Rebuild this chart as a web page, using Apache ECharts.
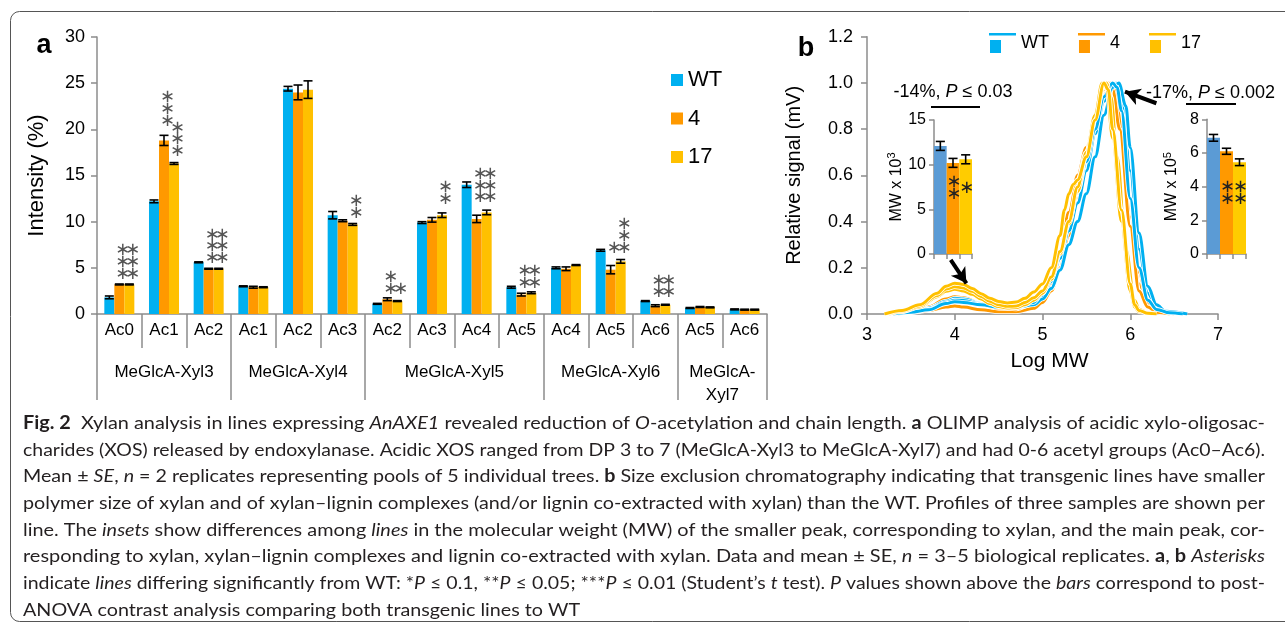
<!DOCTYPE html>
<html><head><meta charset="utf-8">
<script src="https://cdn.jsdelivr.net/npm/echarts@6/dist/echarts.min.js"></script>
<style>html,body{margin:0;padding:0;background:#fff}#c{width:1285px;height:626px}</style>
</head><body><div id="c"></div>
<script>
// ---------- Panel a data ----------
const acLabels = ['Ac0','Ac1','Ac2','Ac1','Ac2','Ac3','Ac2','Ac3','Ac4','Ac5','Ac4','Ac5','Ac6','Ac5','Ac6'];
const groupNames = ['MeGlcA-Xyl3','MeGlcA-Xyl4','MeGlcA-Xyl5','MeGlcA-Xyl6','MeGlcA-\nXyl7'];
const groupBounds = [0,3,6,10,13,15];
const groupCenters = [1.5,4.5,8,11.5,14];
const lineNames = ['WT','4','17'];
const wtValues  = [1.8,12.2,5.6,3.0,24.4,10.7,1.1,9.9,14.0,2.9,5.0,6.9,1.4,0.65,0.5];
const l4Values  = [3.2,18.8,4.9,2.9,24.0,10.1,1.6,10.2,10.3,2.1,4.9,4.8,0.9,0.76,0.47];
const l17Values = [3.2,16.3,4.9,2.9,24.3,9.7,1.4,10.7,11.0,2.3,5.3,5.7,1.0,0.72,0.47];
const wtErr  = [0.15,0.15,0.05,0.05,0.25,0.4,0.05,0.1,0.3,0.1,0.1,0.1,0.05,0.05,0.05];
const l4Err  = [0.05,0.55,0.05,0.1,0.8,0.1,0.15,0.25,0.4,0.15,0.2,0.45,0.1,0.05,0.05];
const l17Err = [0.05,0.1,0.05,0.05,0.95,0.1,0.05,0.25,0.25,0.1,0.05,0.2,0.05,0.05,0.05];
// asterisks: [category, line index, count, value of lowest asterisk]
const starsA = [[0,1,3,4.3],[0,2,3,4.3],[1,1,3,20.9],[1,2,3,17.6],[2,1,3,6.0],[2,2,3,6.0],
  [5,2,2,10.9],[6,1,2,2.7],[6,2,1,2.7],[7,2,2,12.4],[8,1,3,12.6],[8,2,3,12.6],
  [9,1,2,3.3],[9,2,2,3.3],[11,1,1,7.15],[11,2,3,7.15],[12,1,2,2.3],[12,2,2,2.3]];

// ---------- Panel b data (Log MW, relative signal) ----------
const wt1 = [[3.3,0],[3.5,0.01],[3.7,0.025],[3.9,0.055],[4.0,0.068],[4.1,0.065],[4.3,0.045],[4.5,0.03],[4.7,0.03],[4.9,0.05],[5.0,0.08],[5.1,0.14],[5.2,0.24],[5.3,0.36],[5.4,0.48],[5.5,0.62],[5.6,0.78],[5.7,0.92],[5.8,0.99],[5.85,1.0],[5.9,0.95],[6.0,0.62],[6.1,0.28],[6.2,0.09],[6.3,0.03],[6.4,0.01],[6.6,0]];
const wt2 = [[3.35,0],[3.5,0.008],[3.7,0.02],[3.9,0.05],[4.0,0.06],[4.1,0.058],[4.3,0.042],[4.5,0.03],[4.7,0.028],[4.9,0.04],[5.0,0.065],[5.1,0.11],[5.2,0.19],[5.3,0.3],[5.4,0.4],[5.5,0.52],[5.6,0.68],[5.7,0.86],[5.8,0.98],[5.87,1.0],[5.95,0.9],[6.0,0.72],[6.1,0.35],[6.2,0.12],[6.3,0.04],[6.4,0.012],[6.65,0]];
const wt3 = [[3.3,0],[3.5,0.008],[3.7,0.018],[3.9,0.045],[4.0,0.053],[4.1,0.05],[4.3,0.04],[4.5,0.03],[4.7,0.03],[4.9,0.05],[5.0,0.09],[5.1,0.16],[5.2,0.27],[5.3,0.4],[5.4,0.53],[5.5,0.66],[5.6,0.8],[5.7,0.94],[5.8,1.0],[5.85,0.98],[5.9,0.88],[6.0,0.5],[6.1,0.2],[6.2,0.06],[6.3,0.02],[6.45,0.005],[6.6,0]];
const l4a = [[3.3,0],[3.5,0.01],[3.7,0.03],[3.9,0.065],[4.0,0.075],[4.1,0.07],[4.3,0.045],[4.5,0.025],[4.7,0.02],[4.9,0.04],[5.0,0.07],[5.1,0.13],[5.2,0.24],[5.3,0.42],[5.4,0.6],[5.5,0.72],[5.6,0.84],[5.7,0.96],[5.77,1.0],[5.82,0.97],[5.9,0.82],[6.0,0.42],[6.1,0.13],[6.2,0.04],[6.3,0.01],[6.45,0]];
const l4b = [[3.35,0],[3.5,0.006],[3.7,0.015],[3.9,0.03],[4.0,0.035],[4.1,0.03],[4.3,0.018],[4.5,0.01],[4.7,0.01],[4.9,0.025],[5.0,0.05],[5.1,0.1],[5.2,0.2],[5.3,0.34],[5.4,0.5],[5.5,0.66],[5.6,0.82],[5.7,0.95],[5.78,1.0],[5.84,0.96],[5.92,0.78],[6.0,0.5],[6.1,0.18],[6.2,0.05],[6.3,0.015],[6.5,0]];
const l4c = [[3.3,0],[3.5,0.01],[3.7,0.025],[3.9,0.05],[4.0,0.06],[4.1,0.056],[4.3,0.04],[4.5,0.025],[4.7,0.022],[4.9,0.045],[5.0,0.08],[5.1,0.15],[5.2,0.27],[5.3,0.44],[5.4,0.58],[5.5,0.7],[5.6,0.83],[5.7,0.97],[5.75,1.0],[5.8,0.97],[5.88,0.8],[6.0,0.38],[6.1,0.1],[6.2,0.03],[6.3,0.008],[6.45,0]];
const l17a = [[3.2,0],[3.4,0.015],[3.6,0.04],[3.8,0.09],[3.9,0.12],[4.0,0.133],[4.1,0.128],[4.2,0.11],[4.3,0.088],[4.4,0.068],[4.5,0.054],[4.6,0.048],[4.7,0.052],[4.8,0.068],[4.9,0.095],[5.0,0.13],[5.1,0.2],[5.2,0.34],[5.25,0.45],[5.3,0.52],[5.35,0.56],[5.4,0.58],[5.5,0.68],[5.6,0.84],[5.7,1.0],[5.75,0.97],[5.8,0.8],[5.9,0.45],[6.0,0.13],[6.05,0.04],[6.1,0.015],[6.2,0.003],[6.3,0]];
const l17b = [[3.2,0],[3.4,0.012],[3.6,0.035],[3.8,0.08],[3.9,0.108],[4.0,0.118],[4.1,0.113],[4.2,0.098],[4.3,0.076],[4.4,0.055],[4.5,0.04],[4.6,0.033],[4.7,0.035],[4.8,0.05],[4.9,0.07],[5.0,0.1],[5.1,0.16],[5.2,0.27],[5.3,0.4],[5.4,0.55],[5.5,0.7],[5.6,0.86],[5.68,1.0],[5.73,0.98],[5.8,0.76],[5.9,0.4],[6.0,0.1],[6.05,0.03],[6.1,0.01],[6.25,0]];
const l17c = [[3.25,0],[3.4,0.01],[3.6,0.03],[3.8,0.075],[3.9,0.098],[4.0,0.107],[4.1,0.1],[4.2,0.085],[4.3,0.065],[4.4,0.045],[4.5,0.032],[4.6,0.026],[4.7,0.028],[4.8,0.04],[4.9,0.06],[5.0,0.09],[5.1,0.15],[5.2,0.26],[5.3,0.39],[5.4,0.53],[5.5,0.69],[5.6,0.85],[5.7,0.98],[5.73,1.0],[5.78,0.94],[5.85,0.68],[5.95,0.28],[6.05,0.06],[6.1,0.02],[6.2,0.005],[6.3,0]];
const arrowLeft  = [[3.954,0.234],[4.133,0.133]];
const arrowRight = [[6.298,0.912],[5.94,0.962]];

// ---------- Insets ----------
const insetCats = ['WT','4','17'];
const insetLVals = [12.1,10.2,10.6];
const insetLErr  = [0.5,0.5,0.5];
const insetRVals = [6.9,6.1,5.45];
const insetRErr  = [0.2,0.18,0.2];
// [category, count, value of lowest asterisk]
const starsL = [[1,2,6.7],[2,1,7.35]];
const starsR = [[1,2,3.25],[2,2,3.25]];
const insetTitleL = ['-14%, ', 'P', ' \u2264 0.03'];
const insetTitleR = ['-17%, ', 'P', ' \u2264 0.002'];

// ---------- Caption ----------
const captionLines = [
 [['b','Fig. 2'],['n','  Xylan analysis in lines expressing '],['i','AnAXE1'],['n',' revealed reduction of '],['i','O'],['n','-acetylation and chain length. '],['b','a'],['n',' OLIMP analysis of acidic xylo-oligosac-']],
 [['n','charides (XOS) released by endoxylanase. Acidic XOS ranged from DP 3 to 7 (MeGlcA-Xyl3 to MeGlcA-Xyl7) and had 0-6 acetyl groups (Ac0\u2013Ac6).']],
 [['n','Mean \u00b1 '],['i','SE'],['n',', '],['i','n'],['n',' = 2 replicates representing pools of 5 individual trees. '],['b','b'],['n',' Size exclusion chromatography indicating that transgenic lines have smaller']],
 [['n','polymer size of xylan and of xylan\u2013lignin complexes (and/or lignin co-extracted with xylan) than the WT. Profiles of three samples are shown per']],
 [['n','line. The '],['i','insets'],['n',' show differences among '],['i','lines'],['n',' in the molecular weight (MW) of the smaller peak, corresponding to xylan, and the main peak, cor-']],
 [['n','responding to xylan, xylan\u2013lignin complexes and lignin co-extracted with xylan. Data and mean \u00b1 SE, '],['i','n'],['n',' = 3\u20135 biological replicates. '],['b','a'],['n',', '],['b','b'],['n',' '],['i','Asterisks']],
 [['n','indicate '],['i','lines'],['n',' differing significantly from WT: *'],['i','P'],['n',' \u2264 0.1, **'],['i','P'],['n',' \u2264 0.05; ***'],['i','P'],['n',' \u2264 0.01 (Student\u2019s '],['i','t'],['n',' test). '],['i','P'],['n',' values shown above the '],['i','bars'],['n',' correspond to post-']],
 [['n','ANOVA contrast analysis comparing both transgenic lines to WT']]
];

// ---------- styling constants ----------
const C_BLUE='#00B0F0', C_ORANGE='#FF9900', C_YELLOW='#FFC000';
const lineColors=[C_BLUE,C_ORANGE,C_YELLOW];
const insetColors=['#5B9BD5','#FF9900','#FFCC00'];
const AXIS='#8c8c8c';
const FONT='Liberation Sans, Arial, sans-serif';
const BAR_FRAC=0.224;
const CAP_FONT='Lato';
const CAP_SIZE=18;
const STAR_FONT='18px DejaVu Sans';

const chart = echarts.init(document.getElementById('c'), null, {renderer:'canvas'});

function errRender(params, api){
  const c=api.value(0), s=api.value(1), v=api.value(2), e=api.value(3);
  const bw=api.size([1,0])[0]*BAR_FRAC;
  const x=api.coord([c,v])[0]+(s-1)*bw;
  const yt=api.coord([c,v+e])[1], yb=api.coord([c,v-e])[1];
  const hw=bw*0.45;
  const st={stroke:'#000',lineWidth:1.6};
  return {type:'group',children:[
    {type:'line',shape:{x1:x,y1:yt,x2:x,y2:yb},style:st},
    {type:'line',shape:{x1:x-hw,y1:yt,x2:x+hw,y2:yt},style:st},
    {type:'line',shape:{x1:x-hw,y1:yb,x2:x+hw,y2:yb},style:st}]};
}
function starRender(params, api){
  const c=api.value(0), s=api.value(1), n=api.value(2), b=api.value(3);
  const bw=api.size([1,0])[0]*BAR_FRAC;
  const p=api.coord([c,b]);
  const x=p[0]+(s-1)*bw+3.5;
  const ch=[];
  for(let k=0;k<n;k++) ch.push({type:'text',x:x,y:p[1]-k*11.8,style:{text:'\u2217',font:STAR_FONT,fill:'#555',align:'center',verticalAlign:'middle'}});
  return {type:'group',children:ch};
}
function insetErrRender(params, api){
  const c=api.value(0), v=api.value(1), e=api.value(2);
  const bw=api.size([1,0])[0];
  const x=api.coord([c,v])[0];
  const yt=api.coord([c,v+e])[1], yb=api.coord([c,v-e])[1];
  const hw=bw*0.36;
  const st={stroke:'#000',lineWidth:1.6};
  return {type:'group',children:[
    {type:'line',shape:{x1:x,y1:yt,x2:x,y2:yb},style:st},
    {type:'line',shape:{x1:x-hw,y1:yt,x2:x+hw,y2:yt},style:st},
    {type:'line',shape:{x1:x-hw,y1:yb,x2:x+hw,y2:yb},style:st}]};
}
function insetStarRender(params, api){
  const c=api.value(0), n=api.value(1), b=api.value(2);
  const p=api.coord([c,b]);
  const ch=[];
  for(let k=0;k<n;k++) ch.push({type:'text',x:p[0]+1,y:p[1]-k*11.5,style:{text:'\u2217',font:STAR_FONT,fill:'#222',align:'center',verticalAlign:'middle'}});
  return {type:'group',children:ch};
}

const barVals=[wtValues,l4Values,l17Values], barErrs=[wtErr,l4Err,l17Err];
const errData=[];
for(let c=0;c<acLabels.length;c++) for(let s=0;s<3;s++) errData.push([c,s,barVals[s][c],barErrs[s][c]]);

const series=[];
for(let s=0;s<3;s++) series.push({type:'bar',name:lineNames[s],xAxisIndex:0,yAxisIndex:0,data:barVals[s],
  barWidth:(BAR_FRAC*100)+'%',barGap:'0%',itemStyle:{color:lineColors[s]},silent:true});
series.push({type:'custom',xAxisIndex:0,yAxisIndex:0,data:errData,renderItem:errRender,encode:{x:0,y:2},silent:true,z:5});
series.push({type:'custom',xAxisIndex:0,yAxisIndex:0,data:starsA,renderItem:starRender,encode:{x:0,y:3},silent:true,z:5});

const profiles=[[l4a,1],[l4b,1],[l4c,1],[wt1,0],[wt2,0],[wt3,0],[l17c,2],[l17b,2],[l17a,2]];
profiles.forEach(([d,li],i)=>{
  series.push({type:'line',xAxisIndex:2,yAxisIndex:1,data:d,showSymbol:false,smooth:0.35,smoothMonotone:'x',
    lineStyle:{color:'#fff',width:4.6},silent:true,z:2});
  const s={type:'line',name:lineNames[li],xAxisIndex:2,yAxisIndex:1,data:d,showSymbol:false,smooth:0.35,smoothMonotone:'x',
    itemStyle:{color:lineColors[li]},lineStyle:{color:lineColors[li],width:3},silent:true,z:2};
  if(i===profiles.length-1){
    s.markLine={silent:true,symbol:['none','arrow'],symbolSize:[13,15],label:{show:false},
      lineStyle:{color:'#000',width:4,type:'solid'},
      data:[[{coord:arrowLeft[0]},{coord:arrowLeft[1]}],[{coord:arrowRight[0]},{coord:arrowRight[1]}]]};
  }
  series.push(s);
});

// insets
series.push({type:'bar',xAxisIndex:3,yAxisIndex:2,barCategoryGap:'0%',data:insetLVals.map((v,i)=>({value:v,itemStyle:{color:insetColors[i]}})),silent:true,z:3});
series.push({type:'custom',xAxisIndex:3,yAxisIndex:2,data:insetLVals.map((v,i)=>[i,v,insetLErr[i]]),renderItem:insetErrRender,encode:{x:0,y:1},silent:true,z:6});
series.push({type:'custom',xAxisIndex:3,yAxisIndex:2,data:starsL,renderItem:insetStarRender,encode:{x:0,y:2},silent:true,z:6});
series.push({type:'bar',xAxisIndex:4,yAxisIndex:3,barCategoryGap:'0%',data:insetRVals.map((v,i)=>({value:v,itemStyle:{color:insetColors[i]}})),silent:true,z:3});
series.push({type:'custom',xAxisIndex:4,yAxisIndex:3,data:insetRVals.map((v,i)=>[i,v,insetRErr[i]]),renderItem:insetErrRender,encode:{x:0,y:1},silent:true,z:6});
series.push({type:'custom',xAxisIndex:4,yAxisIndex:3,data:starsR,renderItem:insetStarRender,encode:{x:0,y:2},silent:true,z:6});

const axLine={show:true,lineStyle:{color:AXIS,width:1.5}};
const axTick=(len)=>({show:true,length:len,lineStyle:{color:AXIS,width:1.5}});

// caption graphics
const meas=document.createElement('canvas').getContext('2d');
function segFont(t){return (t==='i'?'italic ':'')+(t==='b'?'bold ':'')+CAP_SIZE+'px '+CAP_FONT;}
const CAP_LEFT=23, CAP_RIGHT=1265, CAP_TOP=423, CAP_STEP=26.7;
const capW=captionLines.map(l=>l.reduce((a,[t,s])=>{meas.font=segFont(t);return a+meas.measureText(s).width;},0));
const scales=capW.map(w=>(CAP_RIGHT-CAP_LEFT)/w);
const avgScale=scales.slice(0,-1).reduce((a,b)=>a+b,0)/(scales.length-1);
const richSt={
  n:{fontFamily:CAP_FONT,fontSize:CAP_SIZE,fill:'#231f20'},
  i:{fontFamily:CAP_FONT,fontSize:CAP_SIZE,fontStyle:'italic',fill:'#231f20'},
  b:{fontFamily:CAP_FONT,fontSize:CAP_SIZE,fontWeight:'bold',fill:'#231f20'}};
const graphics=[];
graphics.push({type:'rect',shape:{x:10.5,y:11.5,width:1300,height:610,r:9},style:{fill:'none',stroke:'#555',lineWidth:1},silent:true});
captionLines.forEach((l,i)=>{
  graphics.push({type:'text',x:CAP_LEFT,y:CAP_TOP+i*CAP_STEP,scaleX:(i===captionLines.length-1?avgScale:scales[i]),
    style:{text:l.map(([t,s])=>'{'+t+'|'+s+'}').join(''),rich:richSt,verticalAlign:'middle',align:'left'},silent:true});
});
graphics.push({type:'text',x:44,y:46,style:{text:'a',font:'bold 27px '+FONT,fill:'#000',align:'center',verticalAlign:'middle'}});
graphics.push({type:'text',x:806,y:49,style:{text:'b',font:'bold 27px '+FONT,fill:'#000',align:'center',verticalAlign:'middle'}});
const titleRich={n:{fontFamily:FONT,fontSize:18,fill:'#000'},i:{fontFamily:FONT,fontSize:18,fontStyle:'italic',fill:'#000'}};
graphics.push({type:'text',x:953,y:92,style:{text:'{n|'+insetTitleL[0]+'}{i|'+insetTitleL[1]+'}{n|'+insetTitleL[2]+'}',rich:titleRich,align:'center',verticalAlign:'middle'}});
graphics.push({type:'line',shape:{x1:931,y1:107,x2:980,y2:107},style:{stroke:'#000',lineWidth:2}});
graphics.push({type:'text',x:1146,y:93,style:{text:'{n|'+insetTitleR[0]+'}{i|'+insetTitleR[1]+'}{n|'+insetTitleR[2]+'}',rich:titleRich,align:'left',verticalAlign:'middle'}});
graphics.push({type:'line',shape:{x1:1186,y1:104,x2:1236,y2:104},style:{stroke:'#000',lineWidth:2}});

const option={
  animation:false,
  textStyle:{fontFamily:FONT,color:'#000'},
  legend:[
    {data:lineNames,orient:'vertical',left:671,top:69,icon:'rect',itemWidth:12,itemHeight:12,itemGap:16.5,padding:0,selectedMode:false,
     textStyle:{fontSize:22,lineHeight:22,color:'#000',padding:[0,0,0,0]}},
    {data:lineNames,orient:'horizontal',left:989,top:33,itemWidth:27,itemHeight:20,itemGap:29,padding:0,selectedMode:false,
     icon:'path://M0,0L27,0L27,2.5L0,2.5Z M1,7L12,7L12,20L1,20Z',
     textStyle:{fontSize:18,color:'#000'}}
  ],
  grid:[
    {left:97,top:37,width:670,height:277},
    {left:867,top:36.7,width:351,height:277.3},
    {left:934,top:120,width:38,height:134},
    {left:1207,top:119.3,width:39,height:134.7}
  ],
  xAxis:[
    {type:'category',gridIndex:0,data:acLabels,position:'bottom',axisLine:axLine,axisTick:{...axTick(34),interval:0},
     axisLabel:{interval:0,fontSize:17,margin:8,color:'#000'},splitLine:{show:false}},
    {type:'value',gridIndex:0,min:0,max:15,position:'bottom',offset:0,axisLine:{show:false},splitLine:{show:false},
     axisTick:{show:true,customValues:groupBounds,length:86,lineStyle:{color:AXIS,width:1.5}},
     axisLabel:{customValues:groupCenters,margin:47,fontSize:17,lineHeight:23,color:'#000',
       formatter:(v)=>{let bi=0;groupCenters.forEach((g,i)=>{if(Math.abs(g-v)<Math.abs(groupCenters[bi]-v))bi=i;});return groupNames[bi];}}},
    {type:'value',gridIndex:1,min:3,max:7,interval:1,axisLine:axLine,axisTick:axTick(6),splitLine:{show:false},
     axisLabel:{fontSize:18,margin:12,color:'#000'},name:'Log MW',nameLocation:'middle',nameGap:37,
     nameTextStyle:{fontSize:21,color:'#000',padding:[0,0,0,14]}},
    {type:'category',gridIndex:2,data:insetCats,axisLine:axLine,axisTick:{...axTick(5),interval:0},axisLabel:{show:false}},
    {type:'category',gridIndex:3,data:insetCats,axisLine:axLine,axisTick:{...axTick(5),interval:0},axisLabel:{show:false}}
  ],
  yAxis:[
    {type:'value',gridIndex:0,min:0,max:30,interval:5,axisLine:axLine,axisTick:axTick(6),splitLine:{show:false},
     axisLabel:{fontSize:18,margin:12,color:'#000'},name:'Intensity (%)',nameLocation:'middle',nameGap:49,
     nameTextStyle:{fontSize:22,color:'#000'}},
    {type:'value',gridIndex:1,min:0,max:1.2,interval:0.2,axisLine:axLine,axisTick:axTick(6),splitLine:{show:false},
     axisLabel:{fontSize:18,margin:14,color:'#000',formatter:v=>v.toFixed(1)},name:'Relative signal (mV)',nameLocation:'middle',nameGap:63,
     nameTextStyle:{fontSize:20,color:'#000'}},
    {type:'value',gridIndex:2,min:0,max:15,interval:5,axisLine:axLine,axisTick:axTick(5),splitLine:{show:false},
     axisLabel:{fontSize:16,margin:8,color:'#000'},name:'MW x 10{s|3}',nameLocation:'middle',nameGap:28,
     nameTextStyle:{fontSize:16,color:'#000',rich:{s:{fontSize:11,padding:[0,0,8,0],fontFamily:FONT,color:'#000'}}}},
    {type:'value',gridIndex:3,min:0,max:8,interval:2,axisLine:axLine,axisTick:axTick(5),splitLine:{show:false},
     axisLabel:{fontSize:16,margin:8,color:'#000'},name:'MW x 10{s|5}',nameLocation:'middle',nameGap:26,
     nameTextStyle:{fontSize:16,color:'#000',rich:{s:{fontSize:11,padding:[0,0,8,0],fontFamily:FONT,color:'#000'}}}}
  ],
  series:series,
  graphic:graphics
};
chart.setOption(option);
</script></body></html>
